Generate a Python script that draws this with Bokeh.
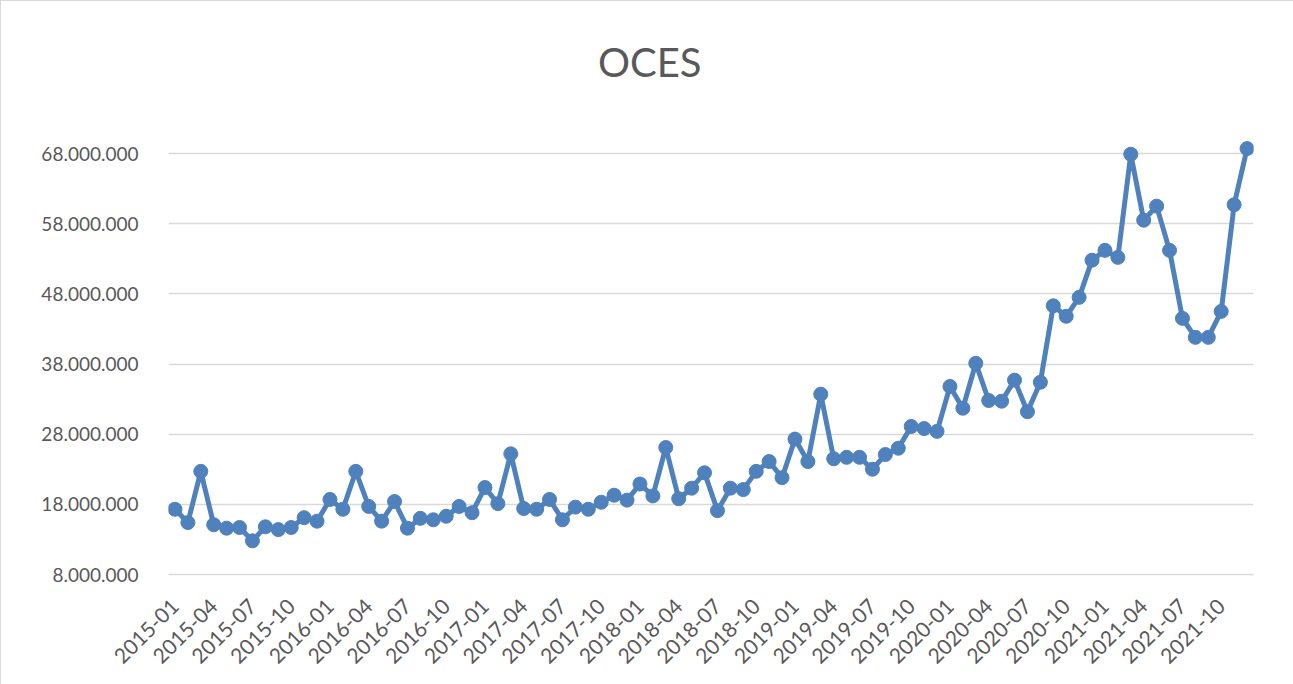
import math
from bokeh.plotting import figure
from bokeh.models import Range1d, FixedTicker, Div
from bokeh.layouts import column
from bokeh.embed import file_html
from bokeh.resources import INLINE

months = [f"{y}-{m:02d}" for y in range(2015, 2022) for m in range(1, 13)]
values_m = [
    17.3, 15.4, 22.7, 15.1, 14.6, 14.7, 12.8, 14.8, 14.4, 14.7, 16.1, 15.6,
    18.7, 17.3, 22.7, 17.7, 15.6, 18.4, 14.6, 16.0, 15.8, 16.3, 17.7, 16.8,
    20.4, 18.1, 25.2, 17.4, 17.3, 18.7, 15.8, 17.6, 17.3, 18.3, 19.3, 18.6,
    20.9, 19.2, 26.1, 18.8, 20.3, 22.5, 17.1, 20.3, 20.1, 22.7, 24.1, 21.8,
    27.3, 24.1, 33.7, 24.5, 24.7, 24.7, 23.0, 25.1, 26.0, 29.1, 28.8, 28.4,
    34.8, 31.7, 38.1, 32.8, 32.7, 35.7, 31.2, 35.4, 46.3, 44.8, 47.5, 52.8,
    54.2, 53.2, 67.9, 58.5, 60.5, 54.2, 44.5, 41.8, 41.8, 45.5, 60.7, 68.7,
]
values = [v * 1_000_000 for v in values_m]
y_ticks = [8_000_000, 18_000_000, 28_000_000, 38_000_000, 48_000_000, 58_000_000, 68_000_000]
title_text = "OCES"

idx = list(range(len(months)))
FONT = "Lato"
GREY = "#595959"
BLUE = "#4f81bd"

W, H = 1292, 684
TITLE_H = 100

title = Div(
    text=(f'<div style="font-family:{FONT};font-size:40px;color:{GREY};'
          f'line-height:122px;padding-left:597px;margin:0">{title_text}</div>'),
    width=W, height=TITLE_H, margin=0)

p = figure(width=W, height=H - TITLE_H, output_backend="svg", toolbar_location=None,
           x_range=Range1d(-0.5, len(months) - 0.5),
           y_range=Range1d(8_000_000, 70_000_000),
           min_border_left=167, min_border_right=40, min_border_top=138 - TITLE_H,
           min_border_bottom=111, margin=0)

p.line(idx, values, line_color=BLUE, line_width=5)
p.scatter(idx, values, size=14, fill_color=BLUE, line_color=BLUE)

p.outline_line_color = None
p.xgrid.grid_line_color = None
p.ygrid.grid_line_color = "#d9d9d9"
p.ygrid.grid_line_width = 1.5

p.yaxis.ticker = FixedTicker(ticks=y_ticks)
p.yaxis.major_label_overrides = {t_: f"{t_:,}".replace(",", ".") for t_ in y_ticks}
p.yaxis.axis_line_color = None
p.yaxis.major_tick_line_color = None
p.yaxis.minor_tick_line_color = None
p.yaxis.major_label_standoff = 24
p.yaxis.major_label_text_font = FONT
p.yaxis.major_label_text_font_size = "19px"
p.yaxis.major_label_text_color = GREY

x_ticks = idx[::3]
p.xaxis.ticker = FixedTicker(ticks=x_ticks)
p.xaxis.major_label_overrides = {i: months[i] for i in x_ticks}
p.xaxis.major_label_orientation = math.pi / 4
p.xaxis.axis_line_color = "#d9d9d9"
p.xaxis.axis_line_width = 1.5
p.xaxis.major_tick_line_color = None
p.xaxis.minor_tick_line_color = None
p.xaxis.major_label_standoff = 22
p.xaxis.major_label_text_font = FONT
p.xaxis.major_label_text_font_size = "21px"
p.xaxis.major_label_text_color = GREY

layout = column(title, p, spacing=0)
layout.styles = {"border": "1.5px solid #d9d9d9"}

open("out.html", "w").write(file_html(layout, INLINE))
